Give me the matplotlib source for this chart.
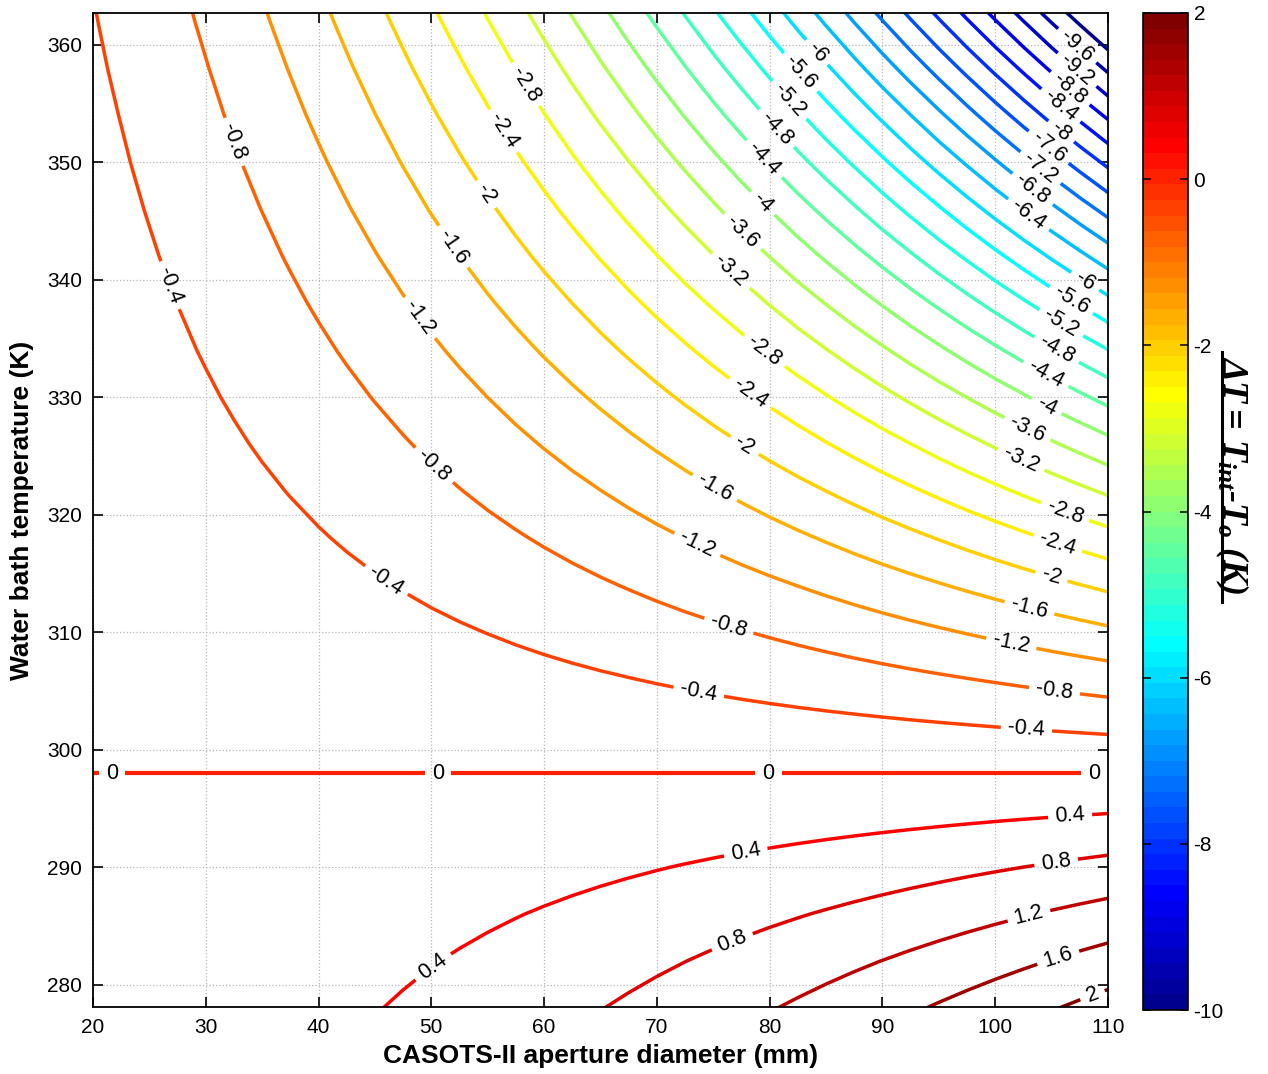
import numpy as np
import matplotlib
matplotlib.use('Agg')
import matplotlib.pyplot as plt
from matplotlib.colors import ListedColormap, Normalize
from matplotlib.lines import Line2D

# ---------------- data ----------------
diameter_mm = [20.0, 22.5, 25.0, 27.5, 30.0, 32.5, 35.0, 37.5, 40.0, 42.5, 45.0,
               47.5, 50.0, 52.5, 55.0, 57.5, 60.0, 62.5, 65.0, 67.5, 70.0, 72.5,
               75.0, 77.5, 80.0, 82.5, 85.0, 87.5, 90.0, 92.5, 95.0, 97.5, 100.0,
               102.5, 105.0, 107.5, 110.0]
# sensitivity of the temperature difference to the aperture diameter
diameter_gain = [0.00432, 0.005453, 0.006715, 0.008105, 0.00962, 0.011261, 0.013026,
                 0.014915, 0.016925, 0.019056, 0.021307, 0.023677, 0.026168, 0.028772,
                 0.031493, 0.034329, 0.037282, 0.040344, 0.043518, 0.046802, 0.050196,
                 0.053703, 0.057313, 0.06103, 0.064851, 0.068784, 0.072814, 0.076945,
                 0.081178, 0.085511, 0.089952, 0.094483, 0.099111, 0.103833, 0.108662,
                 0.113575, 0.11858]
bath_temp_K = [274, 278, 282, 286, 290, 294, 298, 302, 306, 310, 314, 318, 322, 326,
               330, 334, 338, 342, 346, 350, 354, 358, 362, 366]
temp_response = [21.408, 18.2, 14.848, 11.352, 7.712, 3.928, 0.0, -4.096, -8.384,
                 -12.864, -17.536, -22.4, -27.456, -32.704, -38.144, -43.776, -49.6,
                 -55.616, -61.824, -68.224, -74.816, -81.6, -88.576, -95.744]

contour_levels = np.round(np.arange(-10.0, 2.0001, 0.4), 1)
x_ticks = [20, 30, 40, 50, 60, 70, 80, 90, 100, 110]
y_ticks = [280, 290, 300, 310, 320, 330, 340, 350, 360]
cbar_ticks = [-10, -8, -6, -4, -2, 0, 2]

# table for the contour routine
delta_T = np.outer(temp_response, diameter_gain)

# ---------------- style ----------------
plt.rcParams['font.family'] = ['Liberation Sans', 'DejaVu Sans']
plt.rcParams['axes.unicode_minus'] = False
plt.rcParams['mathtext.fontset'] = 'custom'
plt.rcParams['mathtext.rm'] = 'Liberation Serif:bold:italic'
plt.rcParams['mathtext.it'] = 'Liberation Serif:bold:italic'
plt.rcParams['mathtext.bf'] = 'Liberation Serif:bold:italic'


def matlab_jet(m=64):
    n = int(np.ceil(m / 4))
    u = np.concatenate([np.arange(1, n + 1) / n, np.ones(n - 1), np.arange(n, 0, -1) / n])
    g = int(np.ceil(n / 2)) - (1 if m % 4 == 1 else 0) + np.arange(1, len(u) + 1)
    r = g + n
    b = g - n
    J = np.zeros((m, 3))
    k = r <= m
    J[r[k] - 1, 0] = u[k]
    k = (g <= m) & (g >= 1)
    J[g[k] - 1, 1] = u[k]
    k = b >= 1
    J[b[k] - 1, 2] = u[k]
    return J


cmap = ListedColormap(matlab_jet(64))
norm = Normalize(vmin=-10, vmax=2)

W, H = 1268, 1074
fig = plt.figure(figsize=(W / 100, H / 100), dpi=100)
ax = fig.add_axes([93 / W, 1 - 1007 / H, (1108 - 93) / W, (1007 - 13) / H])

ax.set_xlim(20, 110)
ax.set_ylim(278.1, 362.7)
ax.set_xticks(x_ticks)
ax.set_yticks(y_ticks)
ax.grid(True, linestyle=':', color='0.72', linewidth=0.9)
ax.set_axisbelow(True)
ax.tick_params(direction='in', top=True, right=True, length=7, width=1.2,
               labelsize=15, pad=8)
for s in ax.spines.values():
    s.set_linewidth(1.3)

label_spots = {
    -0.4: [(27.3, 339.7), (46.2, 314.7), (73.8, 305.4), (102.8, 302.2)],
    -0.8: [(32.7, 351.8), (50.5, 324.5), (76.5, 310.9), (105.3, 305.3)],
    -1.2: [(49.6, 337.2), (73.8, 317.9), (101.5, 309.4)],
    -1.6: [(52.4, 343.1), (75.2, 322.4), (103.1, 312.3)],
    -2.0: [(55.2, 347.5), (78.1, 326.4), (105.1, 315.1)],
    -2.4: [(56.8, 352.9), (78.7, 330.9), (105.6, 317.7)],
    -2.8: [(58.5, 356.7), (79.6, 334.0), (106.2, 320.3)],
    -3.2: [(76.9, 341.1), (102.4, 324.9)],
    -3.6: [(78.0, 344.5), (102.9, 327.4)],
    -4.0: [(79.7, 346.8), (104.7, 329.5)],
    -4.4: [(80.0, 350.7), (104.7, 332.3)],
    -4.8: [(81.2, 353.4), (105.6, 334.3)],
    -5.2: [(82.1, 355.6), (105.9, 336.4)],
    -5.6: [(82.8, 357.7), (106.9, 338.5)],
    -6.0: [(84.5, 359.6), (108.0, 339.9)],
    -6.4: [(103.3, 346.0)],
    -6.8: [(103.7, 348.2)],
    -7.2: [(104.4, 350.0)],
    -7.6: [(105.1, 351.7)],
    -8.0: [(106.0, 352.8)],
    -8.4: [(105.7, 354.7)],
    -8.8: [(106.3, 355.9)],
    -9.2: [(107.1, 357.7)],
    -9.6: [(106.3, 358.9)],
    0.0: [(21.7, 298.0), (50.6, 298.0), (79.9, 298.0), (108.8, 298.0)],
    0.4: [(50.1, 281.6), (77.8, 291.7), (106.6, 294.9)],
    0.8: [(76.5, 284.1), (105.3, 291.1)],
    1.2: [(102.8, 286.6)],
    1.6: [(105.3, 283.2)],
    2.0: [(108.4, 279.7)],
}


def fmt(v):
    return f"{round(float(v), 1) + 0.0:g}"


for lv in contour_levels:
    col = cmap(norm(lv))
    key = round(float(lv), 1) + 0.0
    lw = 3.0 if key == 0.0 else 2.5
    cs = ax.contour(diameter_mm, bath_temp_K, delta_T, levels=[lv],
                    colors=[col], linewidths=lw, linestyles='solid')
    if key in label_spots and len(cs.allsegs[0]) > 0:
        texts = ax.clabel(cs, manual=label_spots[key], inline=True,
                          inline_spacing=7, fontsize=15.5, fmt=fmt)
        for t in texts:
            t.set_color('k')

ax.set_xlabel('CASOTS-II aperture diameter (mm)', fontsize=19, fontweight='bold')
ax.set_ylabel('Water bath temperature (K)', fontsize=19, fontweight='bold')
ax.xaxis.label.set_va('center')
ax.yaxis.label.set_va('center')
ax.xaxis.set_label_coords(0.5, -(1056 - 1007) / 994)
ax.yaxis.set_label_coords((22 - 93) / 1015, 0.5)

# colorbar
cax = fig.add_axes([1143 / W, 1 - 1010 / H, 45 / W, 997 / H])
sm = matplotlib.cm.ScalarMappable(norm=norm, cmap=cmap)
cb = fig.colorbar(sm, cax=cax, ticks=cbar_ticks)
cb.outline.set_linewidth(1.2)
cax.tick_params(direction='in', left=True, right=True, length=6, width=1.1,
                labelsize=15, pad=4)

fig.text(1232 / W, 1 - 475 / H, r'$\Delta T=\,T_{int}$-$T_{o}$ (K)', rotation=270,
         ha='center', va='center', fontsize=26, family='Liberation Serif',
         weight='bold', style='italic')
fig.add_artist(Line2D([1222 / W, 1222 / W], [1 - 352 / H, 1 - 602 / H],
                      transform=fig.transFigure, color='k', lw=2.2))

fig.savefig('out.png', dpi=100)
